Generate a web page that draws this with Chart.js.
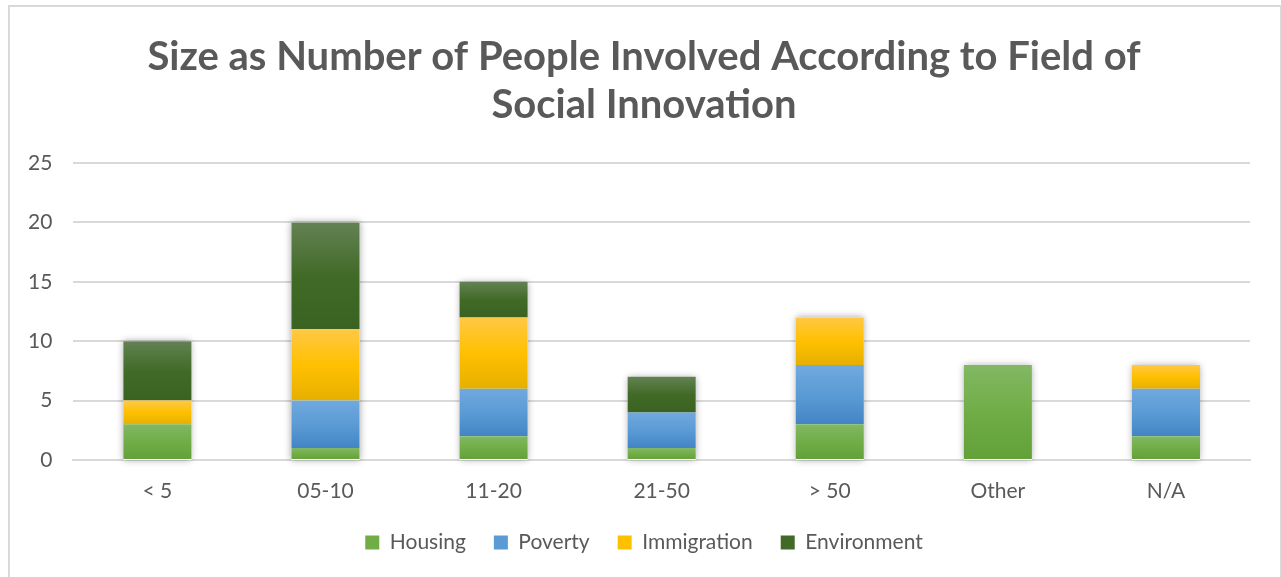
<!DOCTYPE html>
<html>
<head>
<meta charset="utf-8">
<script src="https://cdn.jsdelivr.net/npm/chart.js@4.4.1/dist/chart.umd.min.js"></script>
<style>
    html, body { margin: 0; padding: 0; background: #fff; overflow: hidden; }
    #frame {
        position: absolute; left: 8px; top: 5px; width: 1270px; height: 600px;
        border: 2px solid #d9d9d9;
    }
    #wrap { position: absolute; left: 0; top: 0; width: 1281px; height: 577px; }
</style>
</head>
<body>
<div id="frame"></div>
<div id="wrap"><canvas id="size-chart" width="1281" height="577"></canvas></div>
<script>
const categories = ['< 5', '05-10', '11-20', '21-50', '> 50', 'Other', 'N/A'];
const housing = [3, 1, 2, 1, 3, 8, 2];
const poverty = [0, 4, 4, 3, 5, 0, 4];
const immigration = [2, 6, 6, 0, 4, 0, 2];
const environment = [5, 9, 3, 3, 0, 0, 0];
const yTicks = [0, 5, 10, 15, 20, 25];

// light / base / dark stops for each series
const shades = {
    Housing: ['#82b862', '#70ad47', '#62a038'],
    Poverty: ['#70a9de', '#5b9bd5', '#4384c5'],
    Immigration: ['#ffc845', '#ffc000', '#e6b000'],
    Environment: ['#638253', '#416a27', '#3a6322']
};

const seriesList = [
    ['Housing', housing],
    ['Poverty', poverty],
    ['Immigration', immigration],
    ['Environment', environment]
];

// vertical gradient per segment, from the stacked value range
function segmentFill(ctx) {
    const name = ctx.dataset.label;
    const [light, base, dark] = shades[name];
    const chart = ctx.chart;
    if (ctx.type !== 'data' || !chart.chartArea || !chart.scales.y) return base;
    const i = ctx.dataIndex;
    let start = 0;
    for (let d = 0; d < ctx.datasetIndex; d++) start += chart.data.datasets[d].data[i] || 0;
    const end = start + (ctx.raw || 0);
    const top = chart.scales.y.getPixelForValue(end);
    const bottom = chart.scales.y.getPixelForValue(start);
    if (bottom - top < 1) return base;
    const g = chart.ctx.createLinearGradient(0, top, 0, bottom);
    g.addColorStop(0, light);
    g.addColorStop(0.5, base);
    g.addColorStop(1, dark);
    return g;
}

// soft shadow behind each whole stack
const stackShadow = {
    id: 'stackShadow',
    beforeDatasetsDraw(chart) {
        const { ctx, scales } = chart;
        const meta = chart.getDatasetMeta(0);
        ctx.save();
        ctx.shadowColor = 'rgba(0,0,0,0.35)';
        ctx.shadowBlur = 7;
        ctx.fillStyle = '#ffffff';
        meta.data.forEach((bar, i) => {
            const total = chart.data.datasets.reduce((s, ds) => s + (ds.data[i] || 0), 0);
            const top = scales.y.getPixelForValue(total);
            const bottom = scales.y.getPixelForValue(0);
            const w = bar.width;
            ctx.fillRect(bar.x - w / 2, top, w, bottom - top);
        });
        ctx.restore();
    }
};

const textColor = '#595959';
const gridColor = '#d9d9d9';
const labelFont = { family: 'Lato', size: 21 };

new Chart(document.getElementById('size-chart'), {
    type: 'bar',
    data: {
        labels: categories,
        datasets: seriesList.map(([name, values]) => ({
            label: name,
            data: values,
            backgroundColor: segmentFill,
            borderWidth: 0,
            categoryPercentage: 1,
            barPercentage: 0.405
        }))
    },
    options: {
        responsive: false,
        animation: false,
        layout: { padding: { left: 7, right: 0, top: 0, bottom: 14 } },
        plugins: {
            title: {
                display: true,
                text: ['Size as Number of People Involved According to Field of', 'Social Innovation'],
                color: textColor,
                font: { family: 'Lato', size: 40, weight: 'bold' },
                lineHeight: 1.25,
                padding: { top: 33, bottom: 34 }
            },
            legend: {
                position: 'bottom',
                labels: {
                    color: textColor,
                    font: labelFont,
                    boxWidth: 14,
                    boxHeight: 14,
                    padding: 28,
                    generateLabels: (chart) => chart.data.datasets.map((ds, i) => ({
                        text: ds.label,
                        fillStyle: shades[ds.label][1],
                        strokeStyle: shades[ds.label][1],
                        lineWidth: 0,
                        datasetIndex: i,
                        hidden: false,
                        fontColor: textColor
                    }))
                }
            },
            tooltip: { enabled: false }
        },
        scales: {
            x: {
                stacked: true,
                grid: { display: false, drawTicks: false },
                border: { color: gridColor, width: 2 },
                ticks: {
                    color: textColor,
                    font: labelFont,
                    padding: 19
                },
                afterFit: (axis) => { axis.height = 44; }
            },
            y: {
                stacked: true,
                min: 0,
                max: 25,
                afterBuildTicks: (axis) => { axis.ticks = yTicks.map(v => ({ value: v })); },
                grid: { color: gridColor, lineWidth: 2, drawTicks: false },
                border: { display: false },
                ticks: {
                    color: textColor,
                    font: labelFont,
                    padding: 21
                }
            },
            // empty strip on the right of the plot
            gutter: {
                type: 'linear',
                position: 'right',
                display: true,
                grid: { display: false },
                border: { display: false },
                ticks: { display: false },
                afterFit: (axis) => { axis.width = 31; }
            }
        }
    },
    plugins: [stackShadow]
});
</script>
</body>
</html>
